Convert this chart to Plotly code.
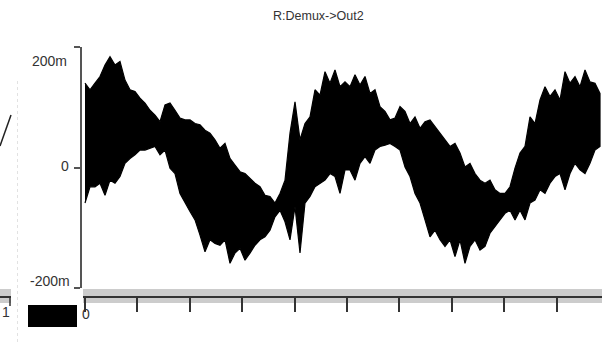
import plotly.graph_objects as go

# ---- data (sample index, envelope in mV) ----
sample_idx = [0, 1, 2, 3, 4, 5, 6, 7, 8, 9, 10, 11, 12, 13, 14, 15, 16, 17, 18, 19,
              20, 21, 22, 23, 24, 25, 26, 27, 28, 29, 30, 31, 32, 33, 34, 35, 36, 37, 38, 39,
              40, 41, 42, 43, 44, 45, 46, 47, 48, 49, 50, 51, 52, 53, 54, 55, 56, 57, 58, 59,
              60, 61, 62, 63, 64, 65, 66, 67, 68, 69, 70, 71, 72, 73, 74, 75, 76, 77, 78, 79,
              80, 81, 82, 83, 84, 85, 86, 87, 88, 89, 90, 91, 92, 93, 94, 95, 96, 97, 98, 99,
              100, 101, 102, 103]

upper_mv = [140, 129, 140, 151, 170, 184, 170, 176, 145, 129, 126, 115, 107, 95, 87, 76, 104, 107, 95, 82,
            79, 79, 73, 71, 62, 57, 46, 32, 40, 15, 4, -7, -10, -18, -26, -32,
            -46, -48, -59, -43, -21, 57, 109, 46, 73, 84, 129, 120, 159, 140, 162, 134, 142, 134, 154, 137,
            151, 123, 129, 101, 93, 79, 82, 101, 93, 73, 84, 65, 76, 79, 68, 57,
            46, 35, 40, 24, 1, 7, -10, -21, -26, -21, -37, -43, -43, -32, -1, 24, 35, 84, 73, 112,
            134, 118, 129, 112, 159, 140, 151, 134, 162, 142, 140, 123]

lower_mv = [-59, -32, -32, -26, -46, -21, -26, -15, 7, 15, 21, 29, 29, 32, 35, 21, 29, -1, -10, -43,
            -59, -73, -87, -112, -140, -120, -126, -129, -120, -159, -142, -134, -154, -142, -129, -120,
            -115, -104, -82, -71, -90, -120, -65, -142, -59, -48, -32, -26, -21, -10, -15, -43, -4, -4, -21, 7,
            18, 7, 29, 35, 37, 40, 35, 29, 1, -15, -43, -59, -87, -115, -104, -120,
            -131, -120, -148, -120, -159, -131, -120, -137, -131, -109, -98, -87, -76, -71, -87, -71, -87, -59,
            -54, -37, -43, -26, -15, -10, -37, -10, 7, -4, -10, 7, 29, 35]

x_tick_pos = [0, 10.48, 20.96, 31.44, 41.92, 52.4, 62.88, 73.36, 83.84, 94.32]
y_tick_vals = [-200, 0, 200]
y_tick_text = ["-200m", "0", "200m"]
title_text = "R:Demux->Out2"

W, H = 602, 342
FONT = "Liberation Sans Narrow, Liberation Sans, Arial, sans-serif"


def px(x):
    return x / W


def py(y):
    return 1 - y / H


fig = go.Figure()
fig.add_trace(go.Scatter(
    x=sample_idx + sample_idx[::-1],
    y=upper_mv + lower_mv[::-1],
    fill="toself", fillcolor="black",
    line=dict(color="black", width=1.2),
    mode="lines", hoverinfo="skip", showlegend=False,
))

shapes = [
    # gray band behind the time axis
    dict(type="rect", xref="paper", yref="paper", x0=px(83), x1=1, y0=py(303), y1=py(289),
         fillcolor="#cccccc", line=dict(width=0), layer="below"),
    dict(type="rect", xref="paper", yref="paper", x0=0, x1=px(11), y0=py(303), y1=py(289),
         fillcolor="#cccccc", line=dict(width=0), layer="below"),
    # left stub of neighbouring panel's axis
    dict(type="line", xref="paper", yref="paper", x0=0, x1=px(11), y0=py(297), y1=py(297),
         line=dict(color="#333", width=2)),
    dict(type="line", xref="paper", yref="paper", x0=px(10), x1=px(10), y0=py(297), y1=py(306),
         line=dict(color="#333", width=1.5)),
    # black block
    dict(type="rect", xref="paper", yref="paper", x0=px(28), x1=px(77), y0=py(327), y1=py(305),
         fillcolor="black", line=dict(width=0)),
    # diagonal trace fragment at top-left
    dict(type="line", xref="paper", yref="paper", x0=0, x1=px(11), y0=py(146), y1=py(115),
         line=dict(color="#222", width=1.5)),
    # faint dotted vertical line
    dict(type="line", xref="paper", yref="paper", x0=px(17.5), x1=px(17.5), y0=py(342), y1=py(80),
         line=dict(color="#e2e2e2", width=1, dash="dot")),
]

annotations = [
    dict(text=title_text, x=px(318), y=py(16), xref="paper", yref="paper", showarrow=False,
         xanchor="center", yanchor="middle", font=dict(family=FONT, size=12.5, color="#333")),
    dict(text=y_tick_text[2], x=px(69), y=py(61), xref="paper", yref="paper", showarrow=False,
         xanchor="right", yanchor="middle", font=dict(family=FONT, size=14, color="#333")),
    dict(text=y_tick_text[1], x=px(71), y=py(166), xref="paper", yref="paper", showarrow=False,
         xanchor="right", yanchor="middle", font=dict(family=FONT, size=14, color="#333")),
    dict(text=y_tick_text[0], x=px(72), y=py(281), xref="paper", yref="paper", showarrow=False,
         xanchor="right", yanchor="middle", font=dict(family=FONT, size=14, color="#333")),
    dict(text="0", x=px(86), y=py(314), xref="paper", yref="paper", showarrow=False,
         xanchor="center", yanchor="middle", font=dict(family=FONT, size=14, color="#333")),
    dict(text="1", x=px(6), y=py(312), xref="paper", yref="paper", showarrow=False,
         xanchor="center", yanchor="middle", font=dict(family=FONT, size=14, color="#333")),
]

fig.update_layout(
    width=W, height=H,
    margin=dict(l=0, r=0, t=0, b=0, pad=0),
    paper_bgcolor="white", plot_bgcolor="white",
    showlegend=False,
    shapes=shapes, annotations=annotations,
    xaxis=dict(domain=[px(83), 1], range=[-0.4, 103.4], anchor="free", position=py(297),
               showgrid=False, zeroline=False, showline=True, linecolor="#333", linewidth=2,
               ticks="outside", ticklen=14, tickwidth=1.5, tickcolor="#333",
               tickvals=x_tick_pos, showticklabels=False, fixedrange=True),
    yaxis=dict(domain=[py(288), py(47)], range=[-200, 200], anchor="free", position=px(81),
               showgrid=False, zeroline=False, showline=True, linecolor="#555", linewidth=1.5,
               ticks="outside", ticklen=6, tickwidth=1.5, tickcolor="#555",
               tickvals=y_tick_vals, showticklabels=False, fixedrange=True),
)

fig.write_html("out.html", config={"displayModeBar": False})
